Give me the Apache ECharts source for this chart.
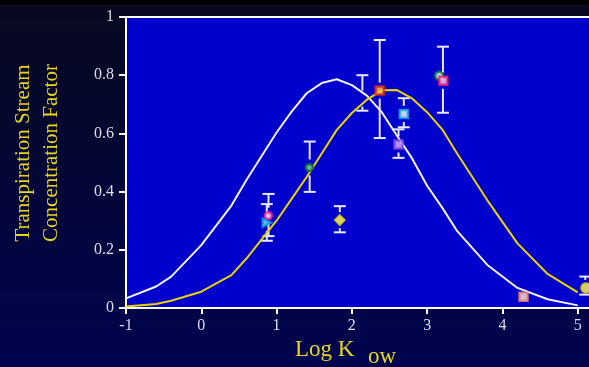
<!DOCTYPE html>
<html><head><meta charset="utf-8">
<script src="https://cdn.jsdelivr.net/npm/echarts@6/dist/echarts.min.js"></script>
<style>
html,body{margin:0;padding:0;width:589px;height:367px;overflow:hidden;
background:linear-gradient(to bottom,#000 0px,#000 4px,#08091f 5px,#040637 50%,#00044f 100%);}
#c{width:589px;height:367px;}
</style></head><body><div id="c"></div>
<script>
// Model curves
const curveX = [-1, -0.6, -0.4, 0, 0.4, 0.6, 1.0, 1.2, 1.4, 1.6, 1.8, 2.0, 2.2, 2.4, 2.6, 2.8, 3.0, 3.2, 3.4, 3.8, 4.2, 4.6, 5.0];
const whiteCurveY = [0.033, 0.074, 0.108, 0.216, 0.352, 0.440, 0.603, 0.675, 0.738, 0.773, 0.786, 0.766, 0.730, 0.672, 0.592, 0.514, 0.420, 0.345, 0.264, 0.148, 0.069, 0.030, 0.009];
const yellowCurveY = [0.005, 0.014, 0.025, 0.056, 0.113, 0.170, 0.300, 0.375, 0.450, 0.531, 0.612, 0.670, 0.716, 0.748, 0.749, 0.720, 0.673, 0.614, 0.530, 0.370, 0.222, 0.117, 0.054];

// Measured points
const pointX = [0.89, 0.87, 1.435, 1.84, 2.37, 2.69, 2.62, 3.16, 3.215, 4.28, 5.11];
const pointY = [0.317, 0.293, 0.483, 0.302, 0.747, 0.667, 0.562, 0.798, 0.781, 0.039, 0.069];

// Error bars
const barX    = [0.893, 0.87, 1.44, 1.84, 2.14, 2.37, 2.69, 2.62, 3.21, 5.10];
const barLow  = [0.247, 0.231, 0.399, 0.260, 0.678, 0.584, 0.621, 0.516, 0.671, 0.046];
const barHigh = [0.392, 0.357, 0.572, 0.350, 0.800, 0.921, 0.721, 0.614, 0.898, 0.108];
const barMid  = [0.317, 0.293, 0.483, 0.302, 0.720, 0.747, 0.667, 0.562, 0.781, 0.069];

const xTicks = [-1, 0, 1, 2, 3, 4, 5];
const yTicks = [0, 0.2, 0.4, 0.6, 0.8, 1];

// marker styles (not data)
const markerStyles = [
  {symbol:'circle', size:7, fill:'#ffffff', stroke:'#ff1493'},
  {symbol:'triangle', size:8, fill:'#80e8ff', stroke:'#10a8e0', rotate:-90},
  {symbol:'circle', size:7, fill:'#8ad8a0', stroke:'#0a6a30'},
  {symbol:'diamond', size:9, fill:'#ffff90', stroke:'#f2e200'},
  {symbol:'rect', size:8, fill:'#ffd040', stroke:'#e02818'},
  {symbol:'rect', size:8, fill:'#ffffff', stroke:'#20a8f0'},
  {symbol:'rect', size:8, fill:'#d8b8ff', stroke:'#8a48e0'},
  {symbol:'circle', size:8, fill:'#e8fff0', stroke:'#0a7a3a'},
  {symbol:'rect', size:8, fill:'#ffd0e8', stroke:'#e0207a'},
  {symbol:'rect', size:8, fill:'#ffe8d8', stroke:'#f08a70'},
  {symbol:'circle', size:9, fill:'#ffff70', stroke:'#f0d800'}
];

const serif = '"Liberation Serif","DejaVu Serif",serif';
const tickColor = '#dcdcec';

const chart = echarts.init(document.getElementById('c'), null, {renderer:'canvas'});

const whiteData = curveX.map((x,i)=>[x, whiteCurveY[i]]);
const yellowData = curveX.map((x,i)=>[x, yellowCurveY[i]]);
const barData = barX.map((x,i)=>[x, barLow[i], barHigh[i], barMid[i]]);
const pointData = pointX.map((x,i)=>{
  const s = markerStyles[i];
  return {value:[x, pointY[i]], symbol:s.symbol, symbolSize:s.size, symbolRotate:s.rotate||0,
    itemStyle:{color:s.fill, borderColor:s.stroke, borderWidth:2.5}};
});

chart.setOption({
  animation:false,
  backgroundColor:'transparent',
  grid:{left:126, top:17, right:0, bottom:59, show:true, backgroundColor:'#0000cc', borderWidth:0},
  xAxis:[{
    type:'value', min:-1, max:5.15, position:'bottom',
    axisLine:{show:true, onZero:false, lineStyle:{color:'#ffffff', width:2}},
    axisTick:{show:true, length:6, lineStyle:{color:'#ffffff', width:2}, customValues:xTicks},
    axisLabel:{color:tickColor, fontFamily:serif, fontSize:16, margin:10, customValues:xTicks,
      formatter:v=>String(v)},
    splitLine:{show:false}
  },{
    type:'value', min:-1, max:5.15, position:'top',
    axisLine:{show:true, onZero:false, lineStyle:{color:'#ffffff', width:2}},
    axisTick:{show:false}, axisLabel:{show:false}, splitLine:{show:false}
  }],
  yAxis:{
    type:'value', min:0, max:1, interval:0.2, position:'left',
    axisLine:{show:true, onZero:false, lineStyle:{color:'#ffffff', width:2}},
    axisTick:{show:true, length:7, lineStyle:{color:'#ffffff', width:2}},
    axisLabel:{color:tickColor, fontFamily:serif, fontSize:16, margin:12,
      formatter:v=>(v===0?'0':v===1?'1':v.toFixed(1))},
    splitLine:{show:false}
  },
  graphic:[
    {type:'text', x:23, y:153, rotation:Math.PI/2,
      style:{text:'Transpiration Stream', font:'21px '+serif, fill:'#e6d61c', align:'center', verticalAlign:'middle'}},
    {type:'text', x:51, y:153, rotation:Math.PI/2,
      style:{text:'Concentration Factor', font:'21px '+serif, fill:'#e6d61c', align:'center', verticalAlign:'middle'}},
    {type:'text', x:295, y:350,
      style:{text:'Log K', font:'23px '+serif, fill:'#e6d61c', align:'left', verticalAlign:'middle'}},
    {type:'text', x:368, y:357,
      style:{text:'ow', font:'23px '+serif, fill:'#e6d61c', align:'left', verticalAlign:'middle'}}
  ],
  series:[
    {type:'custom', data:barData, z:2, clip:false,
      renderItem:function(params, api){
        const x=api.value(0), lo=api.value(1), hi=api.value(2), mid=api.value(3);
        const pt=api.coord([x,hi]), pb=api.coord([x,lo]), pm=api.coord([x,mid]);
        const cap=6, gap=8;
        const st={stroke:'#e8e8ff', lineWidth:2};
        const ch=[
          {type:'line', shape:{x1:pt[0]-cap,y1:pt[1],x2:pt[0]+cap,y2:pt[1]}, style:st},
          {type:'line', shape:{x1:pb[0]-cap,y1:pb[1],x2:pb[0]+cap,y2:pb[1]}, style:st}
        ];
        if (pm[1]-gap > pt[1]) ch.push({type:'line', shape:{x1:pt[0],y1:pt[1],x2:pt[0],y2:pm[1]-gap}, style:st});
        if (pm[1]+gap < pb[1]) ch.push({type:'line', shape:{x1:pb[0],y1:pm[1]+gap,x2:pb[0],y2:pb[1]}, style:st});
        return {type:'group', children:ch};
      }},
    {type:'line', data:whiteData, showSymbol:false, symbol:'none', z:3,
      lineStyle:{color:'#f2f2ff', width:2}},
    {type:'line', data:yellowData, showSymbol:false, symbol:'none', z:3,
      lineStyle:{color:'#e8d400', width:2}},
    {type:'scatter', data:pointData, z:5, clip:false}
  ]
});
</script></body></html>
